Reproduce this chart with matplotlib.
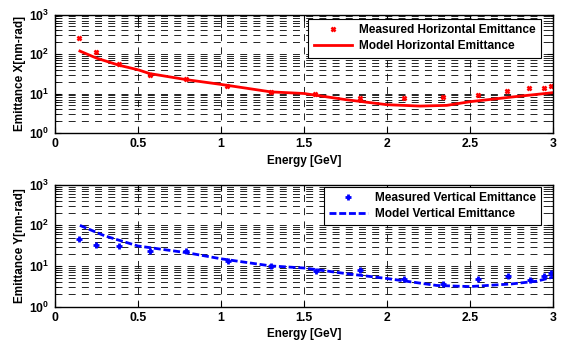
import matplotlib
matplotlib.use("Agg")
import matplotlib.pyplot as plt
from matplotlib.ticker import FixedLocator, FixedFormatter, NullFormatter

plt.rcParams['font.family'] = ['Liberation Sans', 'DejaVu Sans']
plt.rcParams['font.weight'] = 'bold'
plt.rcParams['mathtext.fontset'] = 'custom'
plt.rcParams['mathtext.rm'] = 'Liberation Sans:bold'
plt.rcParams['mathtext.bf'] = 'Liberation Sans:bold'
plt.rcParams['mathtext.it'] = 'Liberation Sans:bold'
plt.rcParams['lines.scale_dashes'] = False

# Measured horizontal emittance
meas_h_E = [0.145, 0.245, 0.386, 0.572, 0.789, 1.038, 1.30, 1.566, 1.84, 2.10, 2.34, 2.55, 2.725, 2.857, 2.946, 2.985]
meas_h_val = [250, 112, 57, 30, 24, 15.6, 11.2, 10, 7.8, 7.5, 8.0, 9.1, 11.5, 14, 14, 15.5]
# Model horizontal emittance
model_h_E = [0.15, 0.25, 0.386, 0.5, 0.57, 0.79, 1.0, 1.3, 1.5, 1.75, 2.0, 2.2, 2.36, 2.5, 2.77, 3.0]
model_h_val = [119, 79, 52, 40, 32, 22.5, 17, 11, 10, 7.0, 5.2, 4.8, 5.0, 6.2, 8.3, 10.5]

# Measured vertical emittance
meas_v_E = [0.145, 0.246, 0.386, 0.575, 0.79, 1.04, 1.30, 1.57, 1.84, 2.10, 2.34, 2.55, 2.73, 2.86, 2.946, 2.99]
meas_v_val = [47, 32, 31.7, 24, 23, 13, 9.7, 7.6, 8.0, 4.9, 3.6, 4.8, 5.5, 4.4, 5.5, 6.8]
# Model vertical emittance
model_v_E = [0.15, 0.3, 0.5, 0.8, 1.0, 1.3, 1.5, 1.75, 2.0, 2.3, 2.5, 2.75, 2.9, 3.0]
model_v_val = [100, 55, 31, 21, 15, 10, 8.9, 6.5, 4.9, 3.3, 3.1, 3.6, 4.2, 5.3]

xticks = [0, 0.5, 1, 1.5, 2, 2.5, 3]
xticklabels = ['0', '0.5', '1', '1.5', '2', '2.5', '3']
yticks = [1, 10, 100, 1000]
yticklabels = [r'$10^{0}$', r'$10^{1}$', r'$10^{2}$', r'$10^{3}$']
yminor = [m * 10**k for k in range(0, 3) for m in range(2, 10)]

fig = plt.figure(figsize=(5.64, 3.40), dpi=100)
ax1 = fig.add_axes([0.0975, 0.609, 0.883, 0.348])
ax2 = fig.add_axes([0.0975, 0.0985, 0.883, 0.358])

dash = (0, (5, 4.5))

def style(ax, ylabel):
    ax.set_yscale('log')
    ax.set_xlim(0, 3)
    ax.set_ylim(1, 1000)
    ax.xaxis.set_major_locator(FixedLocator(xticks))
    ax.xaxis.set_major_formatter(FixedFormatter(xticklabels))
    ax.yaxis.set_major_locator(FixedLocator(yticks))
    ax.yaxis.set_major_formatter(FixedFormatter(yticklabels))
    ax.yaxis.set_minor_locator(FixedLocator(yminor))
    ax.yaxis.set_minor_formatter(NullFormatter())
    ax.tick_params(which='both', direction='in', top=True, right=True, labelsize=8.8)
    ax.tick_params(which='major', length=4, pad=4)
    ax.tick_params(which='minor', length=2)
    ax.grid(True, which='major', axis='both', color='black', linewidth=0.6, linestyle=dash)
    ax.grid(True, which='minor', axis='y', color='black', linewidth=0.6, linestyle=dash)
    ax.set_xlabel('Energy [GeV]', fontsize=8.5, fontweight='bold', labelpad=3)
    ax.set_ylabel(ylabel, fontsize=8.5, fontweight='bold', labelpad=2)
    for s in ax.spines.values():
        s.set_linewidth(1.0)

ax1.plot(meas_h_E, meas_h_val, linestyle='none', marker='x', color='#ff0000',
         markersize=3.5, markeredgewidth=1.8, label='Measured Horizontal Emittance')
ax1.plot(model_h_E, model_h_val, color='#ff0000', linewidth=2, label='Model Horizontal Emittance')
style(ax1, 'Emittance X[nm-rad]')

ax2.plot(meas_v_E, meas_v_val, linestyle='none', marker='+', color='#0000ff',
         markersize=5, markeredgewidth=2, label='Measured Vertical Emittance')
ax2.plot(model_v_E, model_v_val, color='#0000ff', linewidth=2, linestyle=(0, (5, 2)),
         label='Model Vertical Emittance')
style(ax2, 'Emittance Y[nm-rad]')

for ax, anchor in ((ax1, (0.976, 0.964)), (ax2, (0.976, 0.984))):
    leg = ax.legend(loc='upper right', bbox_to_anchor=anchor, fontsize=8.6, fancybox=False,
                    framealpha=1, edgecolor='black', handlelength=3.2, handletextpad=0.6,
                    borderpad=0.45, labelspacing=0.33, borderaxespad=0)
    leg.get_frame().set_linewidth(0.8)

fig.savefig('out.png', dpi=100)
